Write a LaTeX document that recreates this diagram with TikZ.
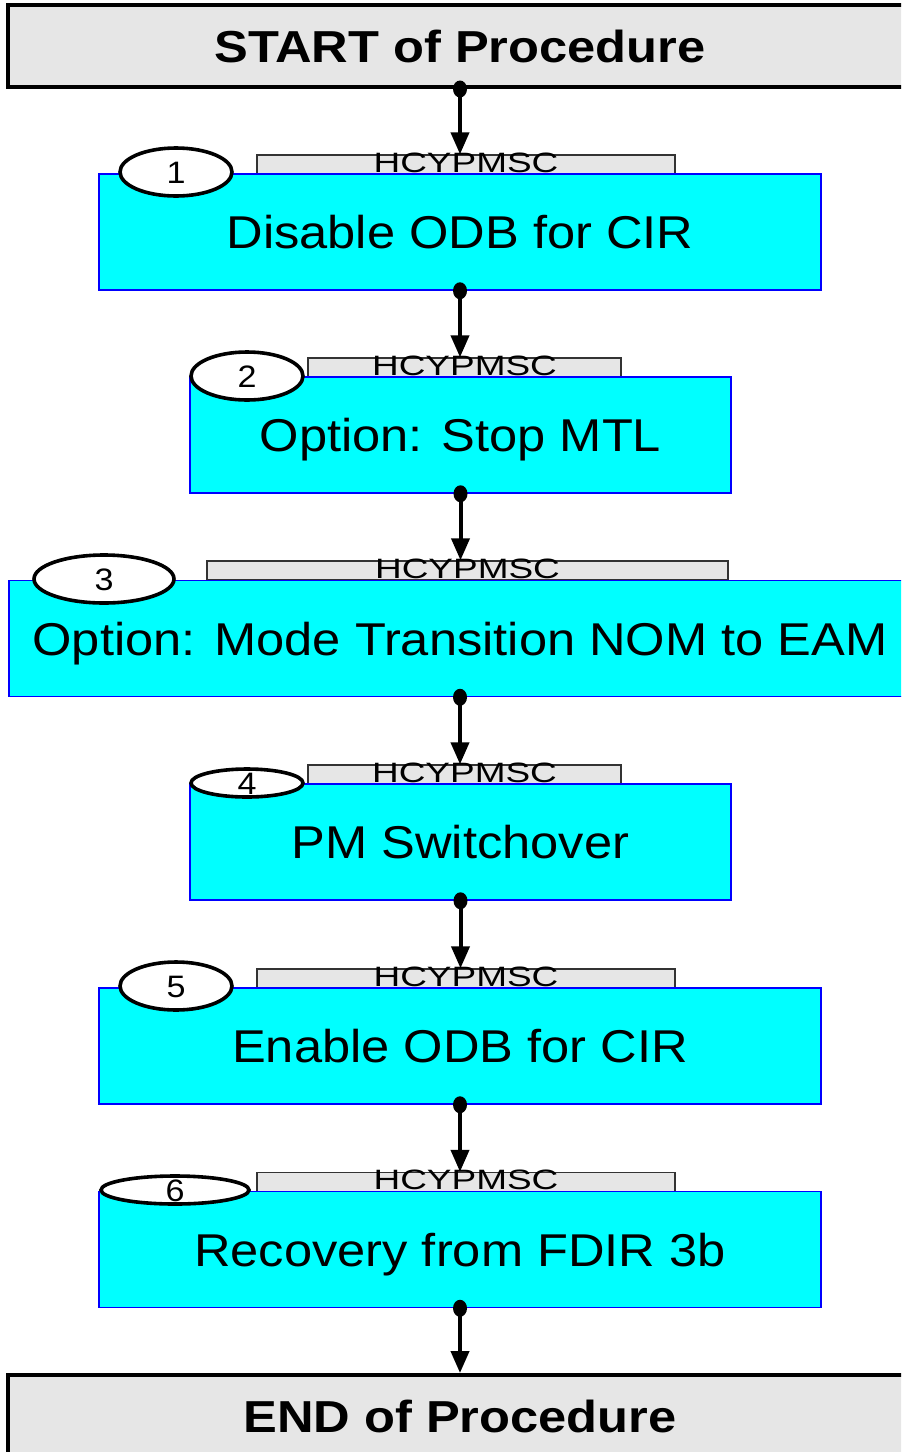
\documentclass[tikz,border=0pt]{standalone}
\usepackage{fontspec}
\setmainfont{Liberation Sans}
\newfontfamily\stepfont[FakeStretch=1.1]{Liberation Sans}
\newfontfamily\tabfont[FakeStretch=1.32]{Liberation Sans}
\newfontfamily\termfont[FakeStretch=1.13]{Liberation Sans}
\usepackage{xcolor}
\usetikzlibrary{arrows.meta}
\usetikzlibrary{positioning}
\usetikzlibrary{shapes}
\definecolor{boxgray}{RGB}{230,230,230}
\definecolor{stepcyan}{RGB}{0,255,255}

\begin{document}
\begin{tikzpicture}
        [x=0.5pt, y=-0.5pt,
        terminal/.style={rectangle,draw=black,line width=2pt,fill=boxgray,minimum width=452pt,inner sep=0pt,text height=16pt,text depth=0pt,font=\termfont\bfseries\fontsize{22.4}{26}\selectfont},
        stepbox/.style={rectangle,draw=blue,line width=0.75pt,fill=stepcyan,minimum height=58pt,inner sep=0pt,text height=16.5pt,text depth=0pt,font=\stepfont\fontsize{23}{27}\selectfont},
        tabbox/.style={rectangle,draw=black!80,line width=0.7pt,fill=boxgray,minimum height=9.5pt,inner sep=0pt,text height=8.5pt,text depth=1pt,font=\tabfont\fontsize{14}{16}\selectfont},
        stepnum/.style={ellipse,draw=black,line width=1.8pt,fill=white,inner xsep=0pt,inner ysep=-2pt,minimum width=56pt,minimum height=24pt,text height=11pt,text depth=0pt,font=\stepfont\fontsize{15.5}{17}\selectfont},
        flat/.style={minimum height=14pt},
        flow/.style={-{Triangle[width=9pt,length=11pt]},line width=2pt},
        joint/.style={fill=black}]

\useasboundingbox (0,0) rectangle (901,1452);
\clip (0,0) rectangle (901,1452);

% terminals
\node[terminal,minimum height=41pt] at (460,46) (start) {START of Procedure};
\node[terminal,minimum height=41pt] at (460,1416) (end) {END of Procedure};

% steps
\node[tabbox,minimum width=209pt] at (466,164.5) (disabletab) {HCYPMSC};
\node[stepbox,minimum width=361pt] at (460,232) (disable) {Disable ODB for CIR};
\node[stepnum] at (176,172) (disablenum) {1};

\node[tabbox,minimum width=156.5pt] at (464.5,367.5) (stoptab) {HCYPMSC};
\node[stepbox,minimum width=270.5pt] at (460.5,435) (stop) {Option: Stop MTL};
\node[stepnum] at (247,376) (stopnum) {2};

\node[tabbox,minimum width=260.5pt] at (467.5,570.5) (modetab) {HCYPMSC};
\node[stepbox,minimum width=451pt] at (460,638.5) (mode) {Option: Mode Transition NOM to EAM};
\node[stepnum,minimum width=70pt] at (104,579) (modenum) {3};

\node[tabbox,minimum width=156.5pt] at (464.5,774.5) (switchtab) {HCYPMSC};
\node[stepbox,minimum width=270.5pt] at (460.5,842) (switch) {PM Switchover};
\node[stepnum,flat] at (247,783) (switchnum) {4};

\node[tabbox,minimum width=209pt] at (466,978.5) (enabletab) {HCYPMSC};
\node[stepbox,minimum width=361pt] at (460,1046) (enable) {Enable ODB for CIR};
\node[stepnum] at (176,986) (enablenum) {5};

\node[tabbox,minimum width=209pt] at (466,1182) (recoverytab) {HCYPMSC};
\node[stepbox,minimum width=361pt] at (460,1249.5) (recovery) {Recovery from FDIR 3b};
\node[stepnum,flat,minimum width=74pt] at (175,1190) (recoverynum) {6};

%arrows
\draw[flow] (start.south) -- (start.south |- disabletab.north);
\draw[flow] (disable.south) -- (disable.south |- stoptab.north);
\draw[flow] (stop.south) -- (stop.south |- modetab.north);
\draw[flow] (mode.south) -- (mode.south |- switchtab.north);
\draw[flow] (switch.south) -- (switch.south |- enabletab.north);
\draw[flow] (enable.south) -- (enable.south |- recoverytab.north);
\draw[flow] (recovery.south) -- (recovery.south |- end.north);

\fill[joint] (start.south) circle[x radius=3.5pt,y radius=4.25pt];
\fill[joint] (disable.south) circle[x radius=3.5pt,y radius=4.25pt];
\fill[joint] (stop.south) circle[x radius=3.5pt,y radius=4.25pt];
\fill[joint] (mode.south) circle[x radius=3.5pt,y radius=4.25pt];
\fill[joint] (switch.south) circle[x radius=3.5pt,y radius=4.25pt];
\fill[joint] (enable.south) circle[x radius=3.5pt,y radius=4.25pt];
\fill[joint] (recovery.south) circle[x radius=3.5pt,y radius=4.25pt];

\end{tikzpicture}
\end{document}
